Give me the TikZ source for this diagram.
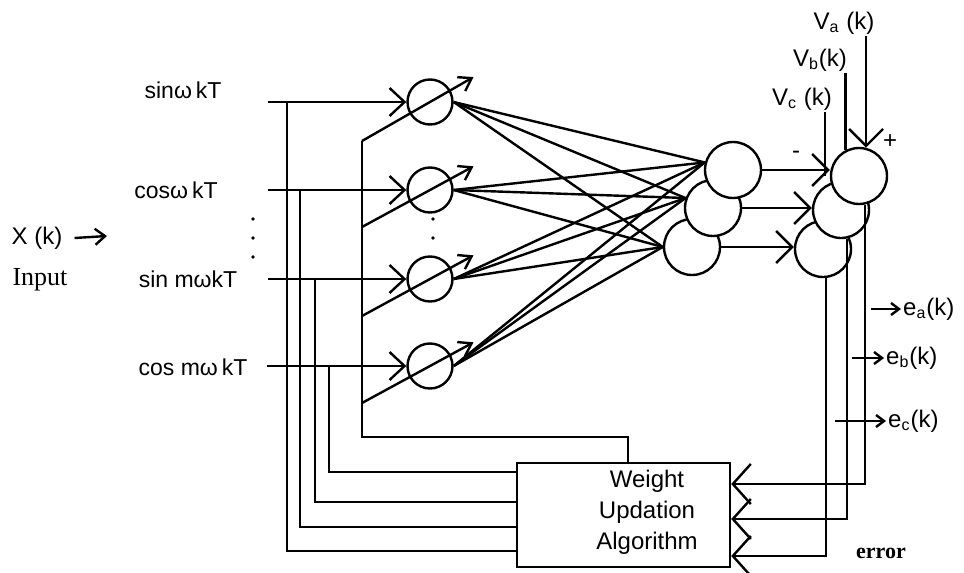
\documentclass[tikz,border=0pt]{standalone}
\usepackage{fontspec}
\setmainfont{Liberation Sans}
\newfontfamily\timesfont{Liberation Serif}
\usetikzlibrary{arrows.meta, calc}

\begin{document}
\begin{tikzpicture}[
  x=0.5pt, y=-0.5pt, line width=1.2pt,
  lbl/.style={font=\fontsize{11.5}{13}\selectfont, inner sep=0.5pt},
  biglbl/.style={font=\fontsize{12}{14}\selectfont, inner sep=0.5pt},
  neuron/.style={circle, draw, line width=1.2pt, minimum size=22.5pt, inner sep=0pt},
  bigneuron/.style={circle, draw, fill=white, line width=1.2pt, minimum size=28pt, inner sep=0pt},
  dotmark/.style={circle, fill, minimum size=1.8pt, inner sep=0pt},
  inarrow/.style={-{Straight Barb[length=7.5pt, width=14pt]}},
  warrow/.style={-{Straight Barb[length=6pt, width=8pt]}},
  outarrow/.style={-{Straight Barb[length=8pt, width=16pt]}},
  vaarrow/.style={-{Straight Barb[length=8.5pt, width=17pt]}},
  fbarrow/.style={-{Straight Barb[length=9pt, width=20pt]}},
  earrow/.style={-{Straight Barb[length=4pt, width=6pt]}},
]
\useasboundingbox (0,0) rectangle (964,573);

% input labels
\node[lbl] (sin1) at (183,90) {sinω\,kT};
\node[lbl] (cos1) at (176,190) {cosω\,kT};
\node[lbl] (sinm) at (188,279) {sin mωkT};
\node[lbl] (cosm) at (193,367) {cos mω\,kT};
\node[biglbl] (xk) at (37,238) {X (k)};
\node[biglbl, font={\timesfont\fontsize{13}{15}\selectfont}] (input) at (40,280) {Input};
\coordinate (xin) at (107,236);
\draw[-{Straight Barb[length=5pt, width=8pt]}] ([xshift=5pt]xk.east) -- (xin);

\node[dotmark] (dl1) at (253,219) {};
\node[dotmark] (dl2) at (253,238) {};
\node[dotmark] (dl3) at (253,257) {};

% hidden layer
\node[neuron] (h1) at (430,102) {};
\node[neuron] (h2) at (430,190) {};
\node[neuron] (h3) at (430,279) {};
\node[neuron] (h4) at (430,366) {};
\node[dotmark] (dm1) at (433,219) {};
\node[dotmark] (dm2) at (433,238) {};

\coordinate (x1) at (268,102);
\coordinate (x2) at (268,190);
\coordinate (x3) at (268,279);
\coordinate (x4) at (267,366);
\coordinate (t1) at (287,102);
\coordinate (t2) at (300,190);
\coordinate (t3) at (315,279);
\coordinate (t4) at (329,366);
\coordinate (w1) at (362,141);
\coordinate (w2) at (362,227);
\coordinate (w3) at (362,316);
\coordinate (w4) at (362,403);
\coordinate (wb) at (362,437);

\draw[inarrow] (x1) -- (h1.west);
\draw[inarrow] (x2) -- (h2.west);
\draw[inarrow] (x3) -- (h3.west);
\draw[inarrow] (x4) -- (h4.west);

\draw[warrow] (w1) -- ($(w1)!1.64!(h1)$);
\draw[warrow] (w2) -- ($(w2)!1.64!(h2)$);
\draw[warrow] (w3) -- ($(w3)!1.64!(h3)$);
\draw[warrow] (w4) -- ($(w4)!1.64!(h4)$);

% weight updation block
\node[draw, minimum width=106.5pt, minimum height=52pt, inner sep=0pt] (wua) at (623.5,515) {};
\node[align=center, font=\fontsize{12}{15.5}\selectfont] (wutext) at (647,512) {Weight\\Updation\\Algorithm};

\draw (w1) -- (wb) -| ([xshift=2.25pt]wua.north);
\draw (t1) |- ([yshift=-18pt]wua.west);
\draw (t2) |- ([yshift=-6pt]wua.west);
\draw (t3) |- ([yshift=6.5pt]wua.west);
\draw (t4) |- ([yshift=21.5pt]wua.west);

% output layer
\node[bigneuron] (o3) at (692,247) {};
\node[bigneuron] (o2) at (713,208) {};
\node[bigneuron] (o1) at (733,170) {};

\draw (h1.east) -- (o1.165);
\draw (h1.east) -- (o2.160);
\draw (h1.east) -- (o3.west);
\draw (h2.east) -- (o1.165);
\draw (h2.east) -- (o2.160);
\draw (h2.east) -- (o3.west);
\draw (h3.east) -- (o1.165);
\draw (h3.east) -- (o2.160);
\draw (h3.east) -- (o3.west);
\draw (h4.east) -- (o1.165);
\draw (h4.east) -- (o2.160);
\draw (h4.east) -- (o3.west);

% summing junctions
\node[bigneuron] (s3) at (823,249) {};
\node[bigneuron] (s2) at (841,210) {};
\node[bigneuron] (s1) at (859,176) {};

\draw[outarrow] (o1.east) -- (o1.east -| s1.west);
\draw[outarrow] (o2.east) -- (o2.east -| s2.west);
\draw[outarrow] (o3.east) -- (o3.east -| s3.west);

\node[biglbl] (va) at (844,23) {V\textsubscript{a} (k)};
\node[biglbl] (vb) at (820,60) {V\textsubscript{b}(k)};
\node[biglbl] (vc) at (802,99) {V\textsubscript{c} (k)};
\coordinate (vcend) at ([xshift=-2.5pt]s1.west);
\draw[vaarrow] (va.south -| s1.76) -- (s1.76);
\draw (vb.south -| s1.118) -- (s1.118);
\draw (vc.south -| vcend) -- (vcend);
\node[biglbl] (minus) at (796,155) {-};
\node[biglbl] (plus) at (890,142) {+};

% error feedback
\draw[fbarrow] (s1.-78) |- ([yshift=15.5pt]wua.east);
\draw[fbarrow] (s2.-78) |- ([yshift=-2pt]wua.east);
\draw[fbarrow] (s3.-84) |- ([yshift=-20.5pt]wua.east);

\node[biglbl, anchor=west] (ea) at (901,309) {e\textsubscript{a}(k)};
\node[biglbl, anchor=west] (eb) at (884,358) {e\textsubscript{b}(k)};
\node[biglbl, anchor=west] (ec) at (886,421) {e\textsubscript{c}(k)};
\draw[earrow] ([xshift=3pt]ea.west -| s1.-78) -- (ea.west);
\draw[earrow] ([xshift=2.5pt]eb.west -| s2.-78) -- (eb.west);
\draw[earrow] ([xshift=4.5pt]ec.west -| s3.-84) -- (ec.west);

\node[font={\timesfont\bfseries\fontsize{11}{13}\selectfont}] (err) at (881,553) {error};

\end{tikzpicture}
\end{document}
